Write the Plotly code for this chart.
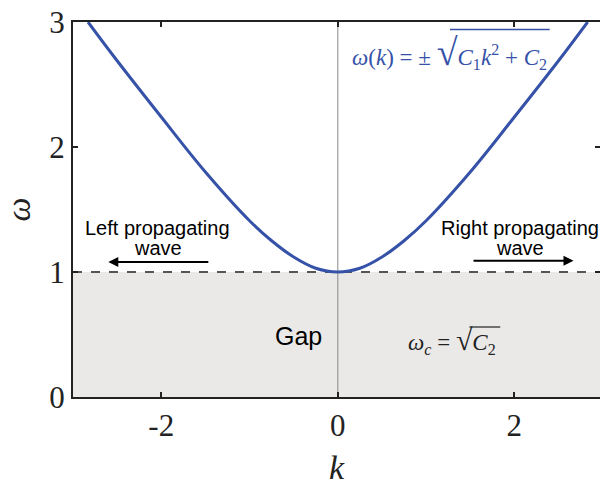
import plotly.graph_objects as go

# dispersion curve
k_vals = [-2.83, -2.5, -2.0, -1.5, -1.0, -0.75, -0.5, -0.25, 0.0,
          0.25, 0.5, 0.75, 1.0, 1.5, 2.0, 2.5, 2.83]
w_vals = [3.0, 2.69, 2.24, 1.80, 1.41, 1.25, 1.12, 1.03, 1.0,
          1.03, 1.12, 1.25, 1.41, 1.80, 2.24, 2.69, 3.0]

# gap region (below cutoff frequency)
gap_k = [-3, 3]
gap_w = [1, 1]

x_ticks = [-2, 0, 2]
y_ticks = [0, 1, 2, 3]

SERIF = "Liberation Serif"
SANS = "Liberation Sans"
BLUE = "#3552a8"

fig = go.Figure()

fig.add_trace(go.Scatter(x=gap_k, y=gap_w, mode="lines", fill="tozeroy",
                         fillcolor="#eae9e8",
                         line=dict(color="#555555", width=2, dash="dash"),
                         hoverinfo="skip"))
fig.add_trace(go.Scatter(x=[0, 0], y=[0, 3], mode="lines",
                         line=dict(color="#8a8a8a", width=1), hoverinfo="skip"))
fig.add_trace(go.Scatter(x=k_vals, y=w_vals, mode="lines",
                         line=dict(color=BLUE, width=3, shape="spline")))

label_font = dict(family=SANS, size=20, color="black")
ann = []
ann.append(dict(x=-2.04, y=1.35, text="Left propagating", showarrow=False, font=label_font))
ann.append(dict(x=-2.04, y=1.19, text="wave", showarrow=False, font=label_font))
ann.append(dict(x=2.06, y=1.35, text="Right propagating", showarrow=False, font=label_font))
ann.append(dict(x=2.06, y=1.19, text="wave", showarrow=False, font=label_font))
ann.append(dict(x=-2.6, y=1.08, ax=-1.45, ay=1.08, axref="x", ayref="y",
                text="", showarrow=True, arrowhead=2, arrowsize=1, arrowwidth=2,
                arrowcolor="black"))
ann.append(dict(x=2.67, y=1.09, ax=1.52, ay=1.09, axref="x", ayref="y",
                text="", showarrow=True, arrowhead=2, arrowsize=1, arrowwidth=2,
                arrowcolor="black"))
ann.append(dict(x=-0.45, y=0.49, text="Gap", showarrow=False,
                font=dict(family=SANS, size=25, color="black")))
ann.append(dict(x=1.29, y=0.456,
                text="<i>ω</i><sub><i>c</i></sub> = <span style='font-size:30px'>√</span><i>C</i><sub>2</sub>",
                showarrow=False, font=dict(family=SERIF, size=23, color="#222")))
ann.append(dict(x=1.27, y=2.76,
                text="<i>ω</i>(<i>k</i>) = ± <span style='font-size:38px'>√</span><i>C</i><sub>1</sub><i>k</i><sup>2</sup> + <i>C</i><sub>2</sub>",
                showarrow=False, font=dict(family=SERIF, size=23, color=BLUE)))

# overlines of the radical signs
shapes = [
    dict(type="line", xref="x", yref="y", x0=1.27, x1=2.40, y0=2.94, y1=2.94,
         line=dict(color=BLUE, width=1.3)),
    dict(type="line", xref="x", yref="y", x0=1.49, x1=1.84, y0=0.56, y1=0.56,
         line=dict(color="#222", width=1.2)),
]

fig.update_layout(
    width=600, height=486,
    margin=dict(l=73, r=0, t=22, b=89),
    plot_bgcolor="white", paper_bgcolor="white",
    showlegend=False,
    annotations=ann,
    shapes=shapes,
    xaxis=dict(range=[-3, 2.97], tickvals=x_ticks, ticktext=["-2", "0", "2"],
               ticks="inside", ticklen=5, tickwidth=1.5, tickcolor="#222",
               showline=True, linecolor="#222", linewidth=2, mirror="ticks",
               showgrid=False, zeroline=False, automargin=False,
               tickfont=dict(family=SERIF, size=31, color="#222"),
               title=dict(text="<i>k</i>", font=dict(family=SERIF, size=34, color="#222"))),
    yaxis=dict(range=[0, 3], tickvals=y_ticks,
               ticks="inside", ticklen=5, tickwidth=1.5, tickcolor="#222",
               showline=True, linecolor="#222", linewidth=2, mirror="ticks",
               showgrid=False, zeroline=False, automargin=False,
               tickfont=dict(family=SERIF, size=31, color="#222"),
               title=dict(text="<i>ω</i>", font=dict(family=SERIF, size=34, color="#222"))),
)

fig.write_html("out.html", config={"displayModeBar": False},
               post_script="document.body.style.margin='0';")
